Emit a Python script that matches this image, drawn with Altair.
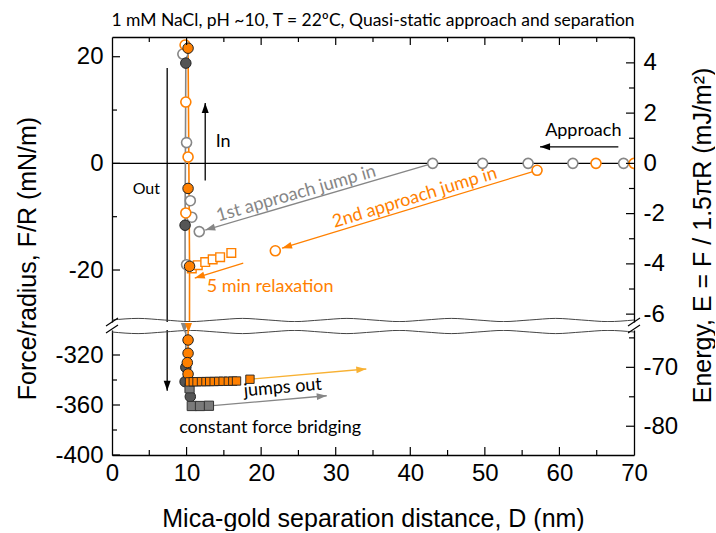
import math
import altair as alt
import pandas as pd

# ---------------- colours / fonts ----------------
ORANGE = "#ff8000"
GOLD = "#f8b133"
GRAY = "#868686"
DARK = "#555555"
EDGE = "#222222"
ANN_FONT = "Lato"
AX_FONT = "Liberation Sans"

# ---------------- layout ----------------
W, H_TOP, H_BOT = 522, 285, 125
X_DOM = [0, 70]
TOP_DOM = [-29.75, 23.7]
BOT_DOM = [-400, -300]
K = 1.5 * math.pi  # E = F / (1.5 pi R)
PPX = W / (X_DOM[1] - X_DOM[0])
PPY_TOP = H_TOP / (TOP_DOM[1] - TOP_DOM[0])
PPY_BOT = H_BOT / (BOT_DOM[1] - BOT_DOM[0])

# ---------------- data ----------------
# 1st approach / separation (grey)
G_OPEN_D = [68.6, 61.8, 55.8, 49.7, 43.0, 11.7, 10.7, 10.5, 10.0, 9.5, 10.0]
G_OPEN_F = [0.0, 0.0, 0.0, 0.0, 0.0, -12.8, -10.1, -7.0, 3.9, 20.5, -19.0]
G_FILL_D = [9.9, 9.8, 9.9, 9.8, 10.5]
G_FILL_F = [18.8, -11.6, -329.9, -341.3, -353.3]
G_SQ_D = [10.4, 10.7, 11.8, 13.0]
G_SQ_F = [-346.6, -360.8, -360.8, -360.6]
G_LINE_D = [9.6, 9.9, 9.8, 9.9, 9.8, 10.5, 10.7, 13.0]
G_LINE_F = [20.5, 18.8, -11.6, -329.9, -341.3, -353.3, -360.8, -360.6]

# 2nd approach / separation (orange)
O_OPEN_D = [70.0, 64.9, 57.0, 21.9, 9.8, 9.9, 10.2, 9.9]
O_OPEN_F = [0.0, 0.0, -1.3, -16.4, 22.2, 11.5, 1.2, -9.3]
O_RELAX_D = [10.7, 11.5, 12.5, 13.5, 14.5, 16.0]
O_RELAX_F = [-19.7, -19.1, -18.5, -18.0, -17.6, -16.8]
O_FILL_D = [10.2, 10.2, 10.4, 10.2, 10.2, 10.1, 10.2]
O_FILL_F = [21.6, -4.7, -19.3, -308.0, -318.6, -326.1, -335.2]
O_SQ_D = [10.4, 10.9, 11.4, 12.0, 12.6, 13.1, 13.7, 14.3, 14.9, 15.6, 16.2, 16.7, 18.5]
O_SQ_F = [-341.5, -341.4, -341.4, -341.3, -341.3, -341.2, -341.2, -341.1, -341.0, -341.0, -340.9, -340.8, -339.4]
O_LINE_D = [10.0, 10.2, 10.3, 10.4, 10.2, 10.2, 10.4, 16.7]
O_LINE_F = [22.2, 21.6, 1.2, -19.3, -308.0, -335.2, -341.5, -340.8]

# annotation arrows (start -> tip)
ARROW_D0 = [67.9, 43.0, 57.0, 17.6, 12.5, 7.4, 18.5, 13.5]
ARROW_F0 = [3.1, 0.0, -1.3, -18.7, -3.2, 17.9, -339.4, -360.5]
ARROW_D1 = [57.4, 12.5, 22.8, 11.1, 12.5, 7.4, 34.1, 28.8]
ARROW_F1 = [3.1, -12.5, -15.9, -21.5, 11.3, -348.5, -331.2, -352.6]
ARROW_COLOR = ["black", GRAY, ORANGE, ORANGE, "black", "black", GOLD, GRAY]

# arrow heads of the jump-out traces just below the axis break
JUMP_HEAD_D = [9.7, 10.25]
JUMP_HEAD_F = [-302.4, -302.4]
JUMP_HEAD_COLOR = [GRAY, ORANGE]

# text annotations
TEXT_LABEL = ["Approach", "In", "Out", "1st approach jump in", "2nd approach jump in",
              "5 min relaxation", "jumps out", "constant force bridging"]
TEXT_D = [63.2, 14.9, 4.6, 24.7, 40.6, 21.2, 22.9, 21.2]
TEXT_F = [6.1, 4.0, -4.8, -5.75, -6.5, -23.2, -346.4, -378.5]
TEXT_ANGLE = [0, 0, 0, 344, 343, 0, 355, 0]
TEXT_COLOR = ["black", "black", "black", GRAY, ORANGE, ORANGE, "black", "black"]
TEXT_SIZE = [18, 18, 16, 18, 18, 18, 18, 18]

# axis ticks
X_LABELS = [0, 10, 20, 30, 40, 50, 60, 70]
X_MAJOR = [10, 20, 30, 40, 50, 60]
X_MINOR = [5, 15, 25, 35, 45, 55, 65]
F_TOP_MAJOR = [20, 0, -20]
F_TOP_MINOR = [10, -10]
F_BOT_MAJOR = [-320, -360, -400]
F_BOT_MINOR = [-340, -380]
E_TOP_MAJOR = [4, 2, 0, -2, -4, -6]
E_TOP_MINOR = [5, 3, 1, -1, -3, -5]
E_BOT_MAJOR = [-70, -80]
E_BOT_MINOR = [-65, -75]

TITLE = "1 mM NaCl, pH ~10, T = 22\u00baC, Quasi-static approach and separation"
X_TITLE = "Mica-gold separation distance, D (nm)"
Y_TITLE = "Force/radius, F/R (mN/m)"
E_TITLE = "Energy, E = F / 1.5\u03c0R (mJ/m\u00b2)"

# break decoration (wavy lines)
WAVE_D = [i * 3.5 for i in range(21)]
WAVE_PX = [0, 1.6, 0, -1.6] * 5 + [0]

# ---------------- tables ----------------
def df(d, f):
    return pd.DataFrame({"D": d, "F": f, "i": list(range(len(d)))})

g_open, g_fill, g_sq, g_line = df(G_OPEN_D, G_OPEN_F), df(G_FILL_D, G_FILL_F), df(G_SQ_D, G_SQ_F), df(G_LINE_D, G_LINE_F)
o_open, o_relax, o_fill = df(O_OPEN_D, O_OPEN_F), df(O_RELAX_D, O_RELAX_F), df(O_FILL_D, O_FILL_F)
o_sq, o_line = df(O_SQ_D, O_SQ_F), df(O_LINE_D, O_LINE_F)

arrows = pd.DataFrame({"D": ARROW_D0, "F": ARROW_F0, "D1": ARROW_D1, "F1": ARROW_F1, "color": ARROW_COLOR})

HEAD_LEN = 10
heads_rows = []
for d0, f0, d1, f1, c in zip(ARROW_D0, ARROW_F0, ARROW_D1, ARROW_F1, ARROW_COLOR):
    ppy = PPY_TOP if f1 >= TOP_DOM[0] else PPY_BOT
    dx = (d1 - d0) * PPX
    dy = -(f1 - f0) * ppy
    L = math.hypot(dx, dy)
    ux, uy = dx / L, dy / L
    ang = math.degrees(math.atan2(ux, -uy)) % 360
    back = HEAD_LEN / 2
    heads_rows.append({"D": d1 - ux * back / PPX, "F": f1 + uy * back / ppy, "angle": ang, "color": c})
heads = pd.DataFrame(heads_rows)
jump_heads = pd.DataFrame({"D": JUMP_HEAD_D,
                           "F": [f + (HEAD_LEN / 2) / PPY_BOT for f in JUMP_HEAD_F],
                           "angle": [180, 180], "color": JUMP_HEAD_COLOR})

texts = pd.DataFrame({"D": TEXT_D, "F": TEXT_F, "label": TEXT_LABEL, "angle": TEXT_ANGLE,
                      "color": TEXT_COLOR, "size": TEXT_SIZE})

HEAD_PATH = "M0,-1L0.7,1L-0.7,1Z"


def panel(top):
    dom = TOP_DOM if top else BOT_DOM
    h = H_TOP if top else H_BOT
    in_dom = f"datum.F >= {dom[0]} && datum.F <= {dom[1]}"
    xs = alt.Scale(domain=X_DOM, nice=False, zero=False)
    ys = alt.Scale(domain=dom, nice=False, zero=False)

    fmaj = F_TOP_MAJOR if top else F_BOT_MAJOR
    fmin = F_TOP_MINOR if top else F_BOT_MINOR
    if top:
        yaxis = alt.Axis(values=fmaj, labelPadding=9, labelExpr="toString(datum.value)",
                         title=Y_TITLE, titleAngle=270, titleX=-77, titleY=221,
                         titleAlign="center", titleBaseline="alphabetic")
        xaxis = alt.Axis(orient="top", labels=False, title=None)
    else:
        yaxis = alt.Axis(values=fmaj, labelPadding=9, labelExpr="toString(datum.value)", title=None)
        xaxis = alt.Axis(orient="bottom", values=X_LABELS, labelPadding=6, title=X_TITLE,
                         titleY=71, titleBaseline="alphabetic")

    X = alt.X("D:Q", scale=xs, axis=xaxis)
    Y = alt.Y("F:Q", scale=ys, axis=yaxis)

    def marker(data, shape, fill, stroke, sw, size):
        return alt.Chart(data).mark_point(shape=shape, filled=True, fill=fill, stroke=stroke,
                                          strokeWidth=sw, size=size, opacity=1, fillOpacity=1,
                                          strokeOpacity=1, clip=True).encode(x=X, y=Y).transform_filter(in_dom)

    layers = []
    if top:
        layers.append(alt.Chart(pd.DataFrame({"F": [0.0]})).mark_rule(
            color="black", strokeWidth=1.3, clip=True).encode(y=Y))
    layers += [
        alt.Chart(g_line).mark_line(color=GRAY, strokeWidth=1.6, clip=True).encode(x=X, y=Y, order="i:Q"),
        alt.Chart(o_line).mark_line(color=ORANGE, strokeWidth=1.6, clip=True).encode(x=X, y=Y, order="i:Q"),
        alt.Chart(arrows).mark_rule(strokeWidth=1.3, clip=True).encode(
            x=X, y=Y, x2="D1:Q", y2="F1:Q", color=alt.Color("color:N", scale=None)),
        alt.Chart(heads).mark_point(shape=HEAD_PATH, filled=True, size=100, opacity=1, clip=True).encode(
            x=X, y=Y, color=alt.Color("color:N", scale=None),
            angle=alt.Angle("angle:Q", scale=None)).transform_filter(in_dom),
        marker(g_open, "circle", "white", GRAY, 1.6, 100),
        marker(o_open, "circle", "white", ORANGE, 1.6, 100),
        marker(o_relax, "square", "white", ORANGE, 1.4, 75),
        marker(g_fill, "circle", DARK, EDGE, 1.0, 110),
        marker(o_fill, "circle", ORANGE, EDGE, 1.0, 110),
        marker(g_sq, "square", "#7a7a7a", "#333333", 1.0, 85),
        marker(o_sq, "square", ORANGE, EDGE, 0.9, 70),
        alt.Chart(texts).mark_text(font=ANN_FONT, align="center", baseline="middle", clip=True).encode(
            x=X, y=Y, text="label:N", angle=alt.Angle("angle:Q", scale=None),
            color=alt.Color("color:N", scale=None),
            size=alt.Size("size:Q", scale=None)).transform_filter(in_dom),
    ]

    if top:
        layers.append(alt.Chart(pd.DataFrame({"t": [TITLE]})).mark_text(
            font=ANN_FONT, fontSize=17.5, color="black", align="center", baseline="alphabetic",
            clip=False).encode(text="t:N", x=alt.value(W / 2), y=alt.value(-11)))

    # break wave
    if top:
        wf = [TOP_DOM[0] + (2 + p) / PPY_TOP for p in WAVE_PX]
    else:
        wf = [BOT_DOM[1] - (2 + p) / PPY_BOT for p in WAVE_PX]
    layers.append(alt.Chart(df(WAVE_D, wf)).mark_line(color="#444444", strokeWidth=1.0,
                                                       interpolate="monotone", clip=True)
                  .encode(x=X, y=Y, order="i:Q"))

    if not top:
        layers.append(alt.Chart(jump_heads).mark_point(shape=HEAD_PATH, filled=True, size=100,
                                                       opacity=1, clip=False).encode(
            x=X, y=Y, color=alt.Color("color:N", scale=None), angle=alt.Angle("angle:Q", scale=None)))
        slash = pd.DataFrame({"k": [0]})
        for x0 in (0, W):
            for off in (-4, 3):
                layers.append(alt.Chart(slash).mark_rule(color="black", strokeWidth=1.1, clip=False).encode(
                    x=alt.value(x0 - 6), x2=alt.value(x0 + 6), y=alt.value(off), y2=alt.value(off - 8)))

    # left inward ticks
    layers.append(alt.Chart(pd.DataFrame({"F": fmaj})).mark_rule(color="black", strokeWidth=1.2).encode(
        y=Y, x=alt.value(0), x2=alt.value(8)))
    layers.append(alt.Chart(pd.DataFrame({"F": fmin})).mark_rule(color="black", strokeWidth=1.2).encode(
        y=Y, x=alt.value(0), x2=alt.value(5)))

    # x inward ticks
    if top:
        ymaj, ymin = (alt.value(0), alt.value(8)), (alt.value(0), alt.value(5))
    else:
        ymaj, ymin = (alt.value(h - 8), alt.value(h)), (alt.value(h - 5), alt.value(h))
    layers.append(alt.Chart(pd.DataFrame({"D": X_MAJOR})).mark_rule(color="black", strokeWidth=1.2).encode(
        x=X, y=ymaj[0], y2=ymaj[1]))
    layers.append(alt.Chart(pd.DataFrame({"D": X_MINOR})).mark_rule(color="black", strokeWidth=1.2).encode(
        x=X, y=ymin[0], y2=ymin[1]))

    # right energy axis + inward ticks
    es = alt.Scale(domain=[dom[0] / K, dom[1] / K], nice=False, zero=False)
    emaj = E_TOP_MAJOR if top else E_BOT_MAJOR
    emin = E_TOP_MINOR if top else E_BOT_MINOR
    if top:
        eaxis = alt.Axis(orient="right", values=emaj, labelPadding=9, labelExpr="toString(datum.value)",
                         title=E_TITLE, titleAngle=270, titleX=76, titleY=198,
                         titleAlign="center", titleBaseline="alphabetic")
    else:
        eaxis = alt.Axis(orient="right", values=emaj, labelPadding=9, labelExpr="toString(datum.value)",
                         title=None)
    EY = alt.Y("E:Q", scale=es, axis=eaxis)
    e_layer = alt.layer(
        alt.Chart(pd.DataFrame({"E": emaj})).mark_rule(color="black", strokeWidth=1.2).encode(
            y=EY, x=alt.value(W - 8), x2=alt.value(W)),
        alt.Chart(pd.DataFrame({"E": emin})).mark_rule(color="black", strokeWidth=1.2).encode(
            y=EY, x=alt.value(W - 5), x2=alt.value(W)),
    )

    return alt.layer(alt.layer(*layers), e_layer).resolve_scale(y="independent").properties(width=W, height=h)


chart = alt.vconcat(panel(True), panel(False), spacing=8, bounds="flush").resolve_scale(
    y="independent"
).properties(
    padding={"left": 15, "top": 12, "right": 0, "bottom": 0},
).configure_view(stroke=None).configure_axis(
    labelFont=AX_FONT, labelFontSize=24, labelColor="black",
    titleFont=AX_FONT, titleFontSize=25, titleFontWeight="normal", titleColor="black",
    domainColor="black", domainWidth=1.3, grid=False, ticks=False, tickSize=0,
    labelFlush=False, labelOverlap=False,
)

chart.save("out.html", embed_options={"renderer": "svg", "actions": False})
